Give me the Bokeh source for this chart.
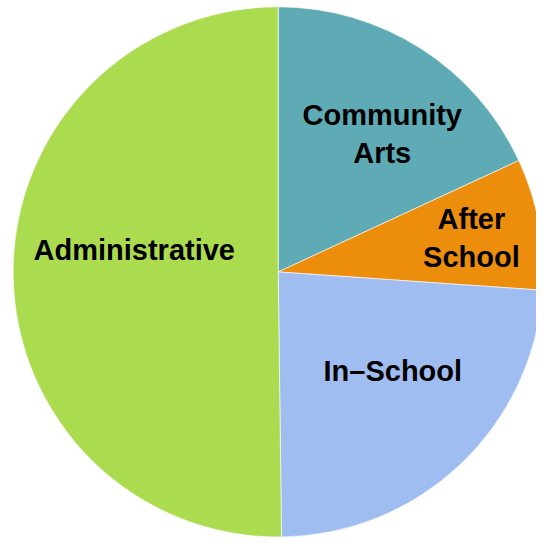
import math
from bokeh.plotting import figure
from bokeh.models import Range1d, ColumnDataSource
from bokeh.core.properties import value
from bokeh.embed import file_html
from bokeh.resources import INLINE

# Data
categories = ["Community Arts", "After School", "In-School", "Administrative"]
shares = [18.1, 8.0, 23.7, 50.2]
label_lines = [["Community", "Arts"], ["After", "School"], ["In\u2013School"], ["Administrative"]]
colors = ["#5eabb5", "#ec8e0c", "#a0bdf2", "#abdb4f"]

# Layout (reference-pixel based coordinates, y flipped)
W, H = 536, 538
cx, cy, R = 286, -279.5, 273
label_pos = [(53.0, 0.652), (10.0, 0.74), (-40.8, 0.571), (171.5, 0.549)]  # (angle deg, radius fraction)
line_gap = 38

total = sum(shares)
starts, ends = [], []
a = math.pi / 2
for s in shares:
    span = s / total * 2 * math.pi
    starts.append(a)
    ends.append(a - span)
    a -= span

src = ColumnDataSource(dict(cat=categories, start=starts, end=ends, color=colors))

p = figure(width=W, height=H, output_backend="svg", toolbar_location=None,
           x_range=Range1d(0, 552), y_range=Range1d(-554, 0),
           min_border=0, outline_line_color=None)
p.axis.visible = False
p.grid.visible = False
p.background_fill_color = "white"
p.border_fill_color = "white"

p.wedge(x=cx, y=cy, radius=R, start_angle="start", end_angle="end", direction="clock",
        fill_color="color", line_color="white", line_width=1, line_alpha=0.6, source=src)

tx, ty, tt, toff = [], [], [], []
for lines, (ang, fr) in zip(label_lines, label_pos):
    bx = cx + fr * R * math.cos(math.radians(ang))
    by = cy + fr * R * math.sin(math.radians(ang))
    n = len(lines)
    for i, ln in enumerate(lines):
        tx.append(bx)
        ty.append(by)
        tt.append(ln)
        toff.append((i - (n - 1) / 2) * line_gap)

p.text(x=tx, y=ty, text=tt, y_offset=toff, text_align="center", text_baseline="middle",
       text_font=value("Liberation Sans"), text_font_style="bold", text_font_size="29px",
       text_color="black")

open("out.html", "w").write(file_html(p, INLINE))
